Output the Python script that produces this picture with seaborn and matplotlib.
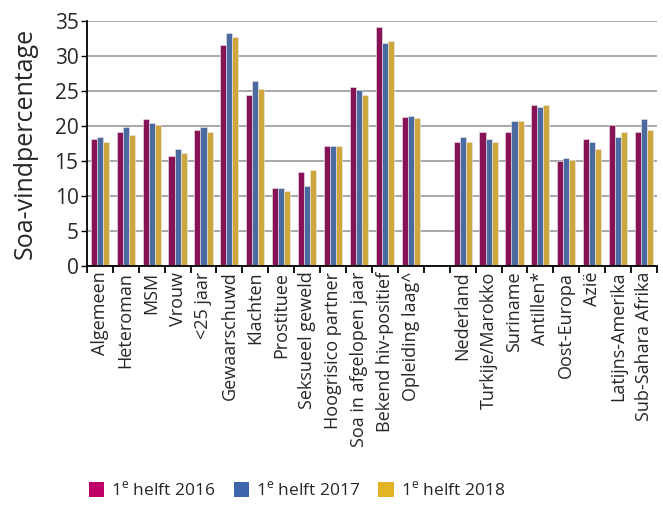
import numpy as np
import pandas as pd
import matplotlib
matplotlib.use("Agg")
import matplotlib.pyplot as plt
import seaborn as sns
from matplotlib.patches import Patch

sns.set_style("white")
plt.rcParams["font.family"] = ["Open Sans", "DejaVu Sans"]
plt.rcParams["mathtext.fontset"] = "custom"
plt.rcParams["mathtext.rm"] = "Open Sans"

# Data
categories = ["Algemeen", "Heteroman", "MSM", "Vrouw", "<25 jaar", "Gewaarschuwd",
              "Klachten", "Prostituee", "Seksueel geweld", "Hoogrisico partner",
              "Soa in afgelopen jaar", "Bekend hiv-positief", "Opleiding laag^",
              "Nederland", "Turkije/Marokko", "Suriname", "Antillen*", "Oost-Europa",
              "Azië", "Latijns-Amerika", "Sub-Sahara Afrika"]
h2016 = [18.1, 19.2, 21.0, 15.8, 19.5, 31.6, 24.4, 11.2, 13.5, 17.2, 25.6, 34.2, 21.3,
         17.8, 19.2, 19.2, 23.0, 15.0, 18.1, 20.1, 19.2]
h2017 = [18.4, 19.9, 20.4, 16.7, 19.9, 33.3, 26.4, 11.2, 11.5, 17.2, 25.1, 31.9, 21.5,
         18.4, 18.1, 20.7, 22.7, 15.5, 17.8, 18.4, 21.0]
h2018 = [17.8, 18.7, 20.1, 16.1, 19.2, 32.7, 25.3, 10.7, 13.8, 17.2, 24.4, 32.2, 21.2,
         17.8, 17.8, 20.7, 23.0, 15.2, 16.7, 19.2, 19.5]
series = ["2016", "2017", "2018"]
colors = ["#990059", "#3D66AD", "#E3B325"]

df = pd.DataFrame({"cat": categories, "2016": h2016, "2017": h2017, "2018": h2018})
long = df.melt(id_vars="cat", var_name="jaar", value_name="pct")

# empty slot between the two groups
order = categories[:13] + [""] + categories[13:]

fig = plt.figure(figsize=(6.63, 5.05), dpi=100)
ax = fig.add_axes([0.131, 0.473, 0.860, 0.485])

sns.barplot(data=long, x="cat", y="pct", hue="jaar", order=order, hue_order=series,
            palette=colors, width=0.7, edgecolor="#f0e8f0", linewidth=0.4,
            ax=ax, legend=False)

ax.set_ylim(0, 35)
ax.set_xlim(-0.5, len(order) - 0.5)
ax.set_yticks(range(0, 36, 5))
ax.yaxis.grid(True, color="#9a9a9a", linewidth=1.2)
ax.set_axisbelow(True)
ax.set_xlabel("")
ax.set_ylabel("Soa-vindpercentage", fontsize=18, labelpad=12)

ax.tick_params(axis="y", labelsize=15, length=4, width=1, direction="out", left=True,
               color="black", pad=2)
ax.tick_params(axis="x", which="major", length=0, labelsize=13, rotation=90, pad=4)
ax.set_xticks(np.arange(-0.5, len(order), 1), minor=True)
ax.tick_params(axis="x", which="minor", length=5, width=1.3, direction="out", bottom=True, color="black")

for s in ["top", "right"]:
    ax.spines[s].set_visible(False)
for s in ["left", "bottom"]:
    ax.spines[s].set_color("black")
    ax.spines[s].set_linewidth(1.3)

handles = [Patch(facecolor=c, edgecolor="none") for c in ["#C0006A", "#3D66AD", "#E3B325"]]
labels = ["1$^{\\mathregular{e}}$ helft " + s for s in series]
fig.legend(handles, labels, loc="lower left", bbox_to_anchor=(0.110, -0.02), ncol=3,
           frameon=False, fontsize=12.5, handlelength=0.9, handleheight=0.9,
           handletextpad=0.4, columnspacing=1.05)

fig.savefig("out.png", dpi=100)
